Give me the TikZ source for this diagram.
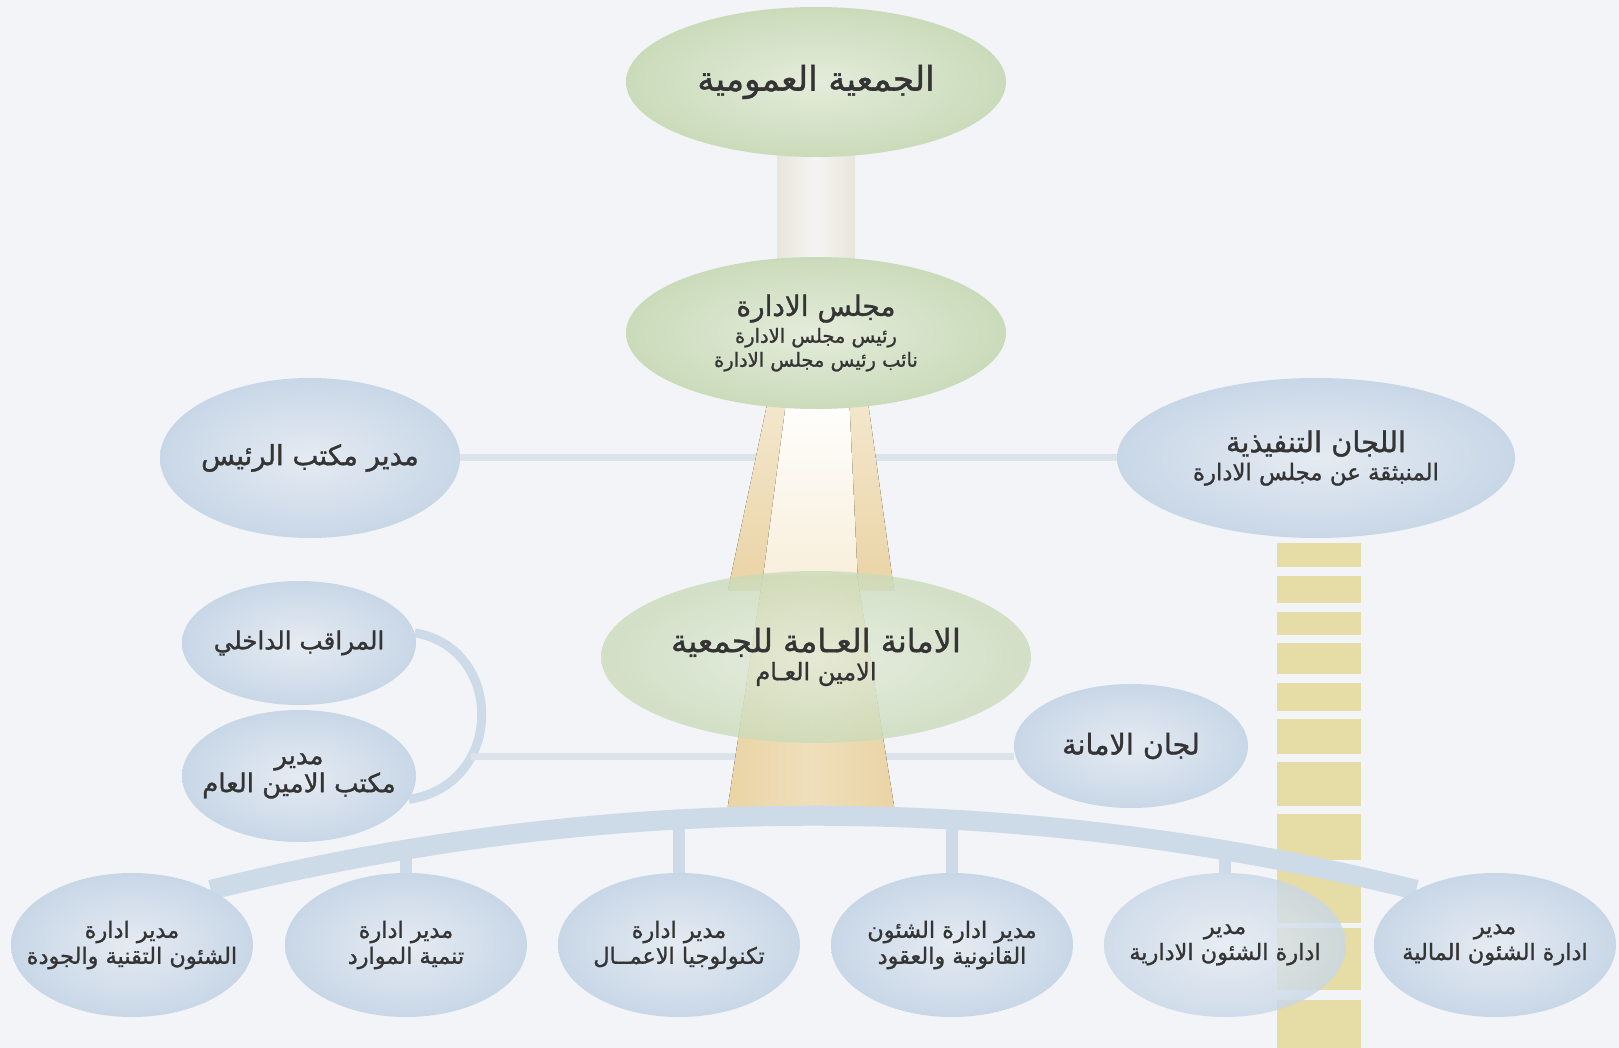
\documentclass[tikz,border=0pt]{standalone}
\usepackage{fontspec}
\newfontfamily\arabicfont[Script=Arabic, FakeBold=1.2]{DejaVu Sans}
\TeXXeTstate=1
\usetikzlibrary{shapes.geometric,calc}

\pgfdeclarelayer{page}
\pgfdeclarelayer{background}
\pgfsetlayers{page,background,main}

\definecolor{bgpage}{HTML}{F3F4F8}
\definecolor{greenin}{HTML}{E4ECDB}
\definecolor{greenout}{HTML}{CADBBA}
\definecolor{bluein}{HTML}{E5EBF2}
\definecolor{blueout}{HTML}{C8D7E7}
\definecolor{beam}{HTML}{EAD4A5}
\definecolor{cream}{HTML}{F8EEDA}
\definecolor{rung}{HTML}{E6DCA6}
\definecolor{wirec}{HTML}{DCE3EB}
\definecolor{bandc}{HTML}{CDDAE8}
\definecolor{pillar}{HTML}{E8E5DC}
\definecolor{ink}{HTML}{343434}

\newcommand{\arbase}{\arabicfont\fontsize{11}{11}\selectfont\lineskiplimit=-20pt}
\newcommand{\arfs}[1]{\fontsize{#1}{11}\selectfont}

\begin{document}
\begin{tikzpicture}[
    x=0.5pt, y=-0.5pt,
    greenell/.style={ellipse, shading=radial, inner color=greenin, outer color=greenout, inner sep=0pt, inner xsep=-40pt, text=ink, align=center, font=\arbase},
    blueell/.style={greenell, inner color=bluein, outer color=blueout},
    dept/.style={blueell, minimum width=121pt, minimum height=72pt},
    glass/.style={fill opacity=0.8, text opacity=1},
    hline/.style={draw=wirec, line width=3.5pt},
    bandline/.style={draw=bandc, line width=10pt},
    stub/.style={draw=bandc, line width=6pt},
    loopline/.style={draw=bandc, line width=4.5pt},
    rungbox/.style={fill=rung}
]

\begin{pgfonlayer}{page}
\fill[bgpage] (0,0) rectangle (1619,1048);
\end{pgfonlayer}
\useasboundingbox (0,0) rectangle (1619,1048);

% Top levels
\node[greenell, minimum width=190pt, minimum height=75pt] (gen) at (816,82)
    {{\arfs{17}\beginR الجمعية العمومية\endR}};
\node[greenell, minimum width=190pt, minimum height=76pt] (board) at (816,333)
    {{\arfs{14}\beginR مجلس الادارة\endR}\\[2.4pt]{\arfs{9.7}\beginR رئيس مجلس الادارة\endR}\\[1pt]{\arfs{9.7}\beginR نائب رئيس مجلس الادارة\endR}};
\node[greenell, glass, minimum width=215pt, minimum height=86pt] (secr) at (816,657)
    {{\arfs{16}\beginR الامانة العـامة للجمعية\endR}\\[3pt]{\arfs{12}\beginR الامين العـام\endR}};

% Side offices
\node[blueell, minimum width=150pt, minimum height=80pt] (chief) at (310,458)
    {{\arfs{13.8}\beginR مدير مكتب الرئيس\endR}};
\node[blueell, minimum width=199pt, minimum height=80pt] (exec) at (1316,458)
    {{\arfs{14.4}\beginR اللجان التنفيذية\endR}\\[3pt]{\arfs{11.4}\beginR المنبثقة عن مجلس الادارة\endR}};
\node[blueell, minimum width=117pt, minimum height=62pt] (audit) at (299,643)
    {{\arfs{12.3}\beginR المراقب الداخلي\endR}};
\node[blueell, minimum width=117pt, minimum height=66pt] (gsoff) at (299,776)
    {{\arfs{13}\beginR مدير\endR}\\[3pt]{\arfs{13}\beginR مكتب الامين العام\endR}};
\node[blueell, minimum width=117pt, minimum height=62pt] (secom) at (1131,746)
    {{\arfs{14.3}\beginR لجان الامانة\endR}};

% Departments
\node[dept] (qual) at (132,945)
    {{\arfs{11.2}\beginR مدير ادارة\endR}\\[2pt]{\arfs{11.2}\beginR الشئون التقنية والجودة\endR}};
\node[dept] (hr) at (406,945)
    {{\arfs{11.2}\beginR مدير ادارة\endR}\\[2pt]{\arfs{11.2}\beginR تنمية الموارد\endR}};
\node[dept] (itm) at (679,945)
    {{\arfs{11.2}\beginR مدير ادارة\endR}\\[2pt]{\arfs{11.2}\beginR تكنولوجيا الاعمــال\endR}};
\node[dept] (legal) at (952,945)
    {{\arfs{11.2}\beginR مدير ادارة الشئون\endR}\\[2pt]{\arfs{11.2}\beginR القانونية والعقود\endR}};
\node[dept, glass] (admin) at (1225,945)
    {{\arfs{11.2}\beginR مدير\endR}\\[2pt]{\arfs{11.2}\beginR ادارة الشئون الادارية\endR}};
\node[dept] (fin) at (1495,945)
    {{\arfs{11.2}\beginR مدير\endR}\\[2pt]{\arfs{11.2}\beginR ادارة الشئون المالية\endR}};

\begin{pgfonlayer}{background}
% Links
\draw[hline] (chief) -- (exec);
\draw[loopline] (audit.5) .. controls (505,648) and (505,785) .. (gsoff.-12)
    coordinate[pos=0.685] (hub);
\draw[hline] (hub) -- (hub -| secom.west);

% Pillar and beams
\fill[left color=pillar, right color=pillar, middle color=pillar!40!white]
    ($(gen.south)+(-39,-10)$) rectangle ($(board.north)+(39,10)$);
\fill[top color=beam!55!white, bottom color=beam] (769,395) -- (867,395) -- (894,590) -- (728,590) -- cycle;
\fill[top color=white, bottom color=cream] (787,395) -- (849,395) -- (858,585) -- (762,585) -- cycle;
\fill[left color=beam, right color=beam, middle color=beam!75!white] (763,575) -- (857,575) -- (895,812) -- (727,812) -- cycle;

% Ladder
\foreach \ya/\yb in {543/567,576/603,612/635,643/674,683/711,719/754,762/806,814/860,868/923,928/990,1000/1048}
    \fill[rungbox] (1277,\ya) rectangle (1361,\yb);

% Arc and stubs
\draw[bandline] (qual.35) .. controls (612,791) and (1015,791) .. (fin.145)
    coordinate[pos=0.162] (k1) coordinate[pos=0.389] (k2)
    coordinate[pos=0.615] (k3) coordinate[pos=0.841] (k4);
\draw[stub] (hr.north) -- (hr.north |- k1);
\draw[stub] (itm.north) -- (itm.north |- k2);
\draw[stub] (legal.north) -- (legal.north |- k3);
\draw[stub] (admin.north) -- (admin.north |- k4);
\end{pgfonlayer}

\end{tikzpicture}
\end{document}
